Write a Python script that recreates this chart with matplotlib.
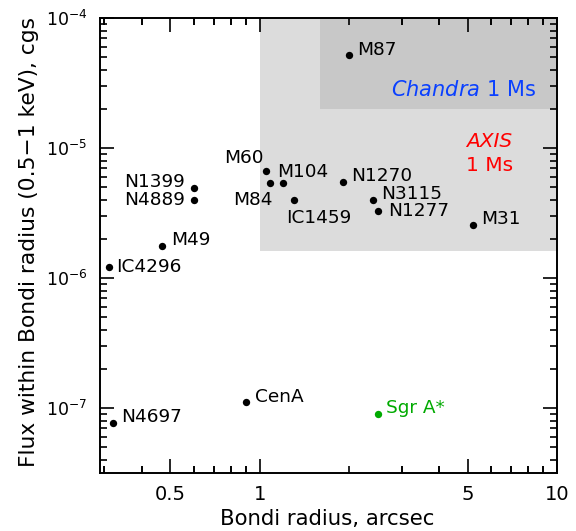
import matplotlib
matplotlib.use("Agg")
import matplotlib.pyplot as plt
from matplotlib.ticker import LogLocator, FixedLocator, FixedFormatter, NullFormatter

plt.rcParams['font.family'] = ['DejaVu Sans']
plt.rcParams['mathtext.fontset'] = 'dejavusans'
plt.rcParams['mathtext.default'] = 'regular'

# data: Bondi radius (arcsec) and flux within it (cgs)
names = ['M87', 'M60', 'M84', 'M104', 'IC1459', 'N1270', 'N3115', 'N1277', 'M31',
         'N1399', 'N4889', 'M49', 'IC4296', 'N4697', 'CenA']
radius = [2.0, 1.05, 1.08, 1.2, 1.3, 1.9, 2.4, 2.5, 5.2,
          0.6, 0.6, 0.47, 0.31, 0.32, 0.9]
flux = [5.15e-5, 6.7e-6, 5.35e-6, 5.35e-6, 4.0e-6, 5.5e-6, 4.0e-6, 3.3e-6, 2.57e-6,
        4.9e-6, 4.0e-6, 1.77e-6, 1.22e-6, 7.7e-8, 1.11e-7]
sgr_radius = 2.5
sgr_flux = 9.05e-8

# shaded sensitivity regions
axis_box = (1.0, 1.6e-6)      # AXIS 1 Ms: x > 1, flux > 1.6e-6
chandra_box = (1.6, 2.0e-5)   # Chandra 1 Ms

xticks = [0.5, 1, 5, 10]
xticklabels = ['0.5', '1', '5', '10']

# label placement (offset in points, alignment)
default_lab = ((6, 4), 'left', 'center')
special_lab = {
    'N1399': ((-6.5, 4.8), 'right', 'center'),
    'N4889': ((-6.5, 0), 'right', 'center'),
    'M60': ((-2, 9), 'right', 'center'),
    'M84': ((2, -12), 'right', 'center'),
    'IC1459': ((-5.5, -13), 'left', 'center'),
    'M104': ((-4.5, 8.4), 'left', 'center'),
    'N1277': ((7.5, 0), 'left', 'center'),
    'IC4296': ((5.5, 0), 'left', 'center'),
}

fig = plt.figure(figsize=(5.76, 5.31), dpi=100)
ax = fig.add_axes([100 / 576, 1 - 473 / 531, 457 / 576, 455 / 531])
ax.set_xscale('log')
ax.set_yscale('log')
ax.set_xlim(0.29, 10)
ax.set_ylim(10 ** -7.5, 1e-4)

ax.fill_between([axis_box[0], 10], axis_box[1], 1e-4, color='#dcdcdc', lw=0, zorder=0)
ax.fill_between([chandra_box[0], 10], chandra_box[1], 1e-4, color='#c8c8c8', lw=0, zorder=0.5)

ax.scatter(radius, flux, s=28, color='black', zorder=3, lw=0)
ax.scatter([sgr_radius], [sgr_flux], s=28, color='#00aa00', zorder=3, lw=0)

fs = 13.3
for n, x, y in zip(names, radius, flux):
    off, ha, va = special_lab.get(n, default_lab)
    ax.annotate(n, (x, y), xytext=off, textcoords='offset points',
                ha=ha, va=va, fontsize=fs, color='black')
ax.annotate('Sgr A*', (sgr_radius, sgr_flux), xytext=(6, 4), textcoords='offset points',
            ha='left', va='center', fontsize=fs, color='#00aa00')

ax.text(0.954, 0.842, r'$\it{Chandra}$ 1 Ms', transform=ax.transAxes,
        ha='right', va='center', fontsize=15, color='#0a40ff')
ax.text(0.852, 0.728, 'AXIS', style='italic', transform=ax.transAxes,
        ha='center', va='center', fontsize=14.5, color='#ff0000')
ax.text(0.852, 0.676, '1 Ms', transform=ax.transAxes,
        ha='center', va='center', fontsize=14.5, color='#ff0000')

ax.xaxis.set_major_locator(FixedLocator(xticks))
ax.xaxis.set_major_formatter(FixedFormatter(xticklabels))
ax.xaxis.set_minor_locator(LogLocator(base=10, subs=(0.3, 0.4, 0.6, 0.7, 0.8, 0.9, 2, 3, 4, 6, 7, 8, 9), numticks=20))
ax.xaxis.set_minor_formatter(NullFormatter())
ax.yaxis.set_major_locator(LogLocator(base=10, numticks=10))
ax.yaxis.set_minor_locator(LogLocator(base=10, subs=range(2, 10), numticks=20))
ax.yaxis.set_minor_formatter(NullFormatter())

ax.tick_params(which='both', direction='in', top=True, right=True, width=1.2)
ax.tick_params(which='major', length=10, pad=9)
ax.tick_params(axis='x', which='major', labelsize=14)
ax.tick_params(axis='y', which='major', labelsize=12.5)
ax.tick_params(which='minor', length=5)
for s in ax.spines.values():
    s.set_linewidth(1.4)

ax.set_xlabel('Bondi radius, arcsec', fontsize=15.3)
ax.set_ylabel('Flux within Bondi radius (0.5\u22121 keV), cgs', fontsize=15.7)
ax.xaxis.set_label_coords(0.498, -0.08)
ax.yaxis.set_label_coords(-0.134, 0.508)

fig.savefig('out.png', dpi=100)
